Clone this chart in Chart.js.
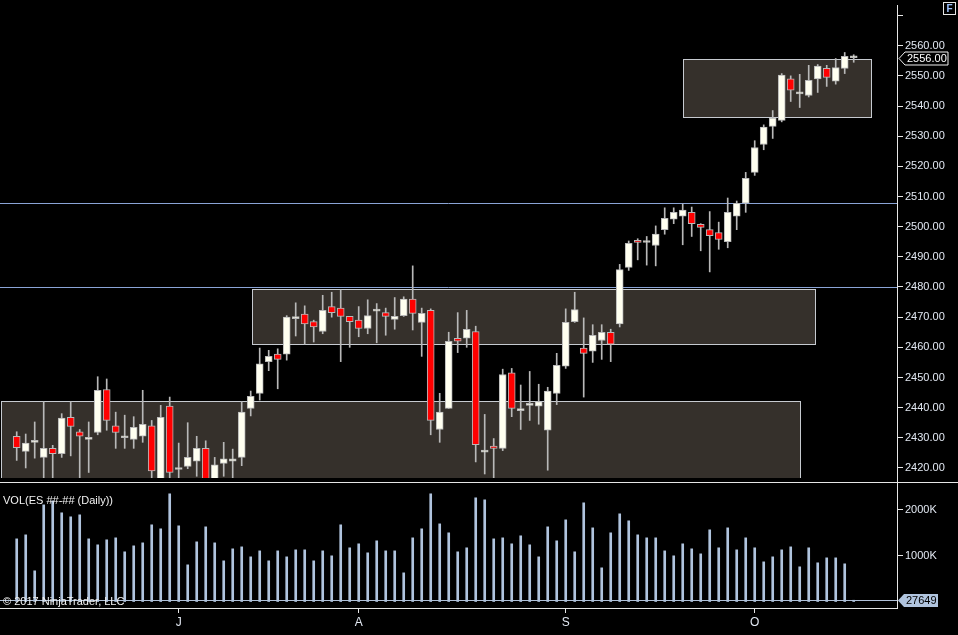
<!DOCTYPE html>
<html>
<head>
<meta charset="utf-8">
<script src="https://cdn.jsdelivr.net/npm/chart.js@4.4.0/dist/chart.umd.min.js"></script>
<style>
  html, body { margin: 0; padding: 0; background: #000; }
  #wrap { position: relative; width: 958px; height: 635px; overflow: hidden; background: #000;
          font-family: "Liberation Sans", Arial, sans-serif; color: #fff; }
  canvas { position: absolute; left: 0; }
  #price { top: 0; }
  #vol { top: 483px; }
  .sep { position: absolute; left: 0; top: 482px; width: 958px; height: 1px; background: #e6e6e6; }
  .axis { position: absolute; left: 897px; top: 5px; width: 1px; height: 604px; background: #e6e6e6; }
  .lbl { position: absolute; left: 3px; font-size: 11px; line-height: 13px; color: #f2f2f2; white-space: nowrap; }
  .fbox { position: absolute; left: 943px; top: 2px; width: 11px; height: 11px; border: 1px solid #e6e6e6;
          font-size: 10px; line-height: 11px; text-align: center; font-weight: bold; color: #9fc3ff; }
</style>
</head>
<body>
<div id="wrap">
  <canvas id="price" width="958" height="483"></canvas>
  <canvas id="vol" width="958" height="152"></canvas>
  <div class="sep"></div>
  <div class="axis"></div>
  <div class="lbl" style="top:494px">VOL(ES ##-## (Daily))</div>
  <div class="lbl" style="top:595px">&copy; 2017 NinjaTrader, LLC</div>
  <div class="fbox">F</div>
</div>
<script>
// daily ES bars, June - October 2017
var dates = [
  '2017-06-07','2017-06-08','2017-06-09','2017-06-12','2017-06-13','2017-06-14','2017-06-15','2017-06-16',
  '2017-06-19','2017-06-20','2017-06-21','2017-06-22','2017-06-23','2017-06-26','2017-06-27','2017-06-28',
  '2017-06-29','2017-06-30',
  '2017-07-03','2017-07-05','2017-07-06','2017-07-07','2017-07-10','2017-07-11','2017-07-12','2017-07-13',
  '2017-07-14','2017-07-17','2017-07-18','2017-07-19','2017-07-20','2017-07-21','2017-07-24','2017-07-25',
  '2017-07-26','2017-07-27','2017-07-28','2017-07-31',
  '2017-08-01','2017-08-02','2017-08-03','2017-08-04','2017-08-07','2017-08-08','2017-08-09','2017-08-10',
  '2017-08-11','2017-08-14','2017-08-15','2017-08-16','2017-08-17','2017-08-18','2017-08-21','2017-08-22',
  '2017-08-23','2017-08-24','2017-08-25','2017-08-28','2017-08-29','2017-08-30','2017-08-31',
  '2017-09-01','2017-09-04','2017-09-05','2017-09-06','2017-09-07','2017-09-08','2017-09-11','2017-09-12',
  '2017-09-13','2017-09-14','2017-09-15','2017-09-18','2017-09-19','2017-09-20','2017-09-21','2017-09-22',
  '2017-09-25','2017-09-26','2017-09-27','2017-09-28','2017-09-29',
  '2017-10-02','2017-10-03','2017-10-04','2017-10-05','2017-10-06','2017-10-09','2017-10-10','2017-10-11',
  '2017-10-12','2017-10-13','2017-10-16','2017-10-17'
];

var opens = [
  2430.5, 2425.5, 2428.5, 2423.5, 2426.5, 2424.75, 2436.75, 2432.0, 2429.5, 2431.75,
  2446.0, 2434.0, 2430.0, 2429.5, 2430.5, 2434.0, 2414.0, 2440.5, 2419.5, 2420.5,
  2422.25, 2426.5, 2416.0, 2421.5, 2422.25, 2423.5, 2439.75, 2444.75, 2455.25, 2457.75,
  2457.75, 2469.5, 2471.0, 2468.5, 2465.25, 2473.5, 2473.0, 2470.25, 2469.0, 2466.25,
  2472.0, 2471.5, 2469.25, 2470.5, 2476.0, 2468.25, 2472.25, 2432.75, 2439.75, 2463.0,
  2463.0, 2465.25, 2425.25, 2427.25, 2426.5, 2451.5, 2439.0, 2440.75, 2440.5, 2432.5,
  2444.75, 2453.75, 2468.5, 2459.75, 2458.75, 2462.25, 2465.0, 2467.75, 2486.5, 2495.5,
  2494.75, 2493.75, 2499.0, 2502.5, 2503.5, 2504.75, 2500.75, 2499.0, 2498.0, 2495.0,
  2503.5, 2507.75, 2518.0, 2527.25, 2533.25, 2535.25, 2549.0, 2544.0, 2543.5, 2549.0,
  2552.5, 2548.25, 2552.5, 2556.0
];
var highs = [
  2432.0, 2431.25, 2435.25, 2442.0, 2427.5, 2438.0, 2442.0, 2432.75, 2435.25, 2450.25,
  2449.5, 2438.5, 2437.5, 2437.0, 2445.75, 2435.75, 2440.75, 2443.5, 2428.25, 2435.0,
  2430.5, 2429.0, 2423.5, 2428.5, 2426.25, 2442.0, 2445.5, 2459.75, 2459.0, 2459.5,
  2470.5, 2474.75, 2473.75, 2469.0, 2477.25, 2478.25, 2479.0, 2470.25, 2473.5, 2475.75,
  2474.5, 2473.0, 2476.5, 2476.75, 2487.0, 2473.0, 2472.75, 2444.75, 2465.0, 2471.5,
  2472.25, 2467.0, 2437.75, 2429.75, 2452.75, 2453.0, 2447.5, 2452.0, 2447.75, 2446.75,
  2458.0, 2472.75, 2478.25, 2469.75, 2467.5, 2467.5, 2466.0, 2487.5, 2495.25, 2496.0,
  2496.75, 2500.25, 2506.25, 2506.25, 2507.5, 2506.5, 2501.0, 2505.0, 2501.5, 2509.5,
  2508.5, 2518.0, 2528.5, 2533.75, 2538.5, 2550.75, 2550.0, 2550.5, 2553.5, 2553.75,
  2553.5, 2555.75, 2557.75, 2557.0
];
var lows = [
  2422.5, 2420.0, 2423.25, 2415.0, 2415.0, 2423.5, 2424.0, 2416.0, 2418.5, 2431.0,
  2432.5, 2426.5, 2426.5, 2426.5, 2428.5, 2415.0, 2412.0, 2415.0, 2415.0, 2419.75,
  2417.25, 2414.0, 2415.0, 2417.25, 2416.0, 2420.75, 2437.25, 2442.5, 2452.25, 2446.25,
  2455.75, 2463.75, 2461.0, 2461.75, 2464.5, 2470.0, 2455.25, 2460.0, 2463.5, 2464.5,
  2461.5, 2464.0, 2466.0, 2470.25, 2465.75, 2457.0, 2431.0, 2428.5, 2439.75, 2458.25,
  2460.0, 2422.0, 2418.0, 2416.5, 2425.75, 2437.0, 2432.75, 2435.75, 2434.5, 2419.25,
  2441.0, 2453.0, 2468.25, 2443.5, 2455.0, 2456.0, 2455.25, 2466.75, 2485.5, 2489.0,
  2487.25, 2487.0, 2497.5, 2501.0, 2494.0, 2496.75, 2492.0, 2485.0, 2492.5, 2493.0,
  2499.0, 2504.75, 2517.0, 2525.5, 2529.25, 2534.75, 2541.5, 2539.5, 2543.0, 2544.5,
  2546.5, 2547.25, 2550.75, 2554.5
];
var closes = [
  2426.75, 2428.25, 2428.5, 2426.5, 2424.75, 2436.5, 2433.75, 2430.5, 2429.5, 2445.75,
  2435.75, 2431.75, 2430.0, 2433.5, 2434.5, 2419.0, 2436.75, 2418.5, 2419.5, 2423.5,
  2426.5, 2416.0, 2421.0, 2423.0, 2423.0, 2438.5, 2443.75, 2454.5, 2457.0, 2456.0,
  2470.0, 2469.5, 2467.75, 2466.75, 2472.25, 2471.5, 2470.25, 2468.5, 2466.25, 2470.5,
  2472.0, 2470.25, 2470.25, 2476.0, 2471.25, 2471.25, 2435.75, 2438.5, 2462.0, 2462.0,
  2466.0, 2427.75, 2425.25, 2426.5, 2451.0, 2439.75, 2439.0, 2440.75, 2442.0, 2445.5,
  2454.0, 2468.25, 2472.5, 2458.0, 2464.0, 2465.0, 2461.0, 2485.75, 2494.5, 2494.75,
  2494.75, 2497.5, 2502.75, 2504.75, 2505.5, 2501.0, 2499.75, 2497.0, 2495.75, 2504.75,
  2507.75, 2516.0, 2526.25, 2533.0, 2536.0, 2550.25, 2545.25, 2544.0, 2548.5, 2553.25,
  2549.5, 2552.75, 2556.5, 2556.0
];
var volumes = [
  1362000, 1449000, 667000, 2101000, 2188000, 1928000, 1841000, 1884000, 1362000, 1232000,
  1341000, 1384000, 1080000, 1210000, 1275000, 1667000, 1580000, 2341000, 1645000, 797000,
  1297000, 1623000, 1275000, 884000, 1145000, 1188000, 971000, 1101000, 884000, 1101000,
  971000, 1123000, 1123000, 884000, 1101000, 993000, 1667000, 1167000, 1254000, 1058000,
  1319000, 1101000, 1101000, 623000, 1384000, 1580000, 2341000, 1688000, 1493000, 1080000,
  1167000, 2254000, 2210000, 1362000, 1384000, 1254000, 1428000, 1232000, 971000, 1623000,
  1319000, 1775000, 1080000, 2145000, 1601000, 732000, 1493000, 1906000, 1754000, 1449000,
  1384000, 1384000, 1101000, 993000, 1254000, 1145000, 1036000, 1558000, 1167000, 1601000,
  1123000, 1384000, 1167000, 862000, 971000, 1123000, 1188000, 754000, 1167000, 841000,
  949000, 949000, 819000, 27649
];
var volumeTicks = [1000000, 2000000];

// shaded zones (bar index from/to, price low/high) and two horizontal levels
var zoneStart = [-1.75, 26.1, 74.0];
var zoneEnd   = [87.0, 88.7, 94.9];
var zoneLow   = [2410.0, 2461.0, 2536.3];
var zoneHigh  = [2442.2, 2479.4, 2555.5];
var levels = [2507.8, 2480.0];

var monthLetters = ['J','F','M','A','M','J','J','A','S','O','N','D'];
var monthTicks = [];
dates.forEach(function (d, i) {
  if (i > 0 && d.slice(5, 7) !== dates[i - 1].slice(5, 7)) monthTicks.push(i);
});

Chart.defaults.font.family = '"Liberation Sans", Arial, sans-serif';
Chart.defaults.font.size = 11;
Chart.defaults.color = '#e2e8f2';
Chart.defaults.animation = false;

var X_MIN = -1.856, X_MAX = 97.81;
var WICK = '#b8b8b8';

var wickData = dates.map(function (d, i) { return { x: i, y: [lows[i], highs[i]] }; });
var bodyData = dates.map(function (d, i) {
  return { x: i, y: [Math.min(opens[i], closes[i]), Math.max(opens[i], closes[i])] };
});
var bodyColors = dates.map(function (d, i) { return closes[i] < opens[i] ? '#ff0000' : '#fffff0'; });

function fixAxis(width) {
  return function (scale) {
    scale.width = width;
    scale.paddingTop = 0; scale.paddingBottom = 0;
  };
}

function marker(ctx, x, y, w, text, fill, stroke, color) {
  ctx.save();
  ctx.beginPath();
  ctx.moveTo(x, y);
  ctx.lineTo(x + 6, y - 6.5);
  ctx.lineTo(x + w, y - 6.5);
  ctx.lineTo(x + w, y + 6.5);
  ctx.lineTo(x + 6, y + 6.5);
  ctx.closePath();
  ctx.fillStyle = fill;
  ctx.fill();
  if (stroke) { ctx.strokeStyle = stroke; ctx.lineWidth = 1; ctx.stroke(); }
  ctx.fillStyle = color;
  ctx.font = '11px "Liberation Sans", Arial, sans-serif';
  ctx.textBaseline = 'middle';
  ctx.fillText(text, x + 8, y + 0.5);
  ctx.restore();
}

var zonesPlugin = {
  id: 'zones',
  beforeDatasetsDraw: function (chart) {
    var ctx = chart.ctx, a = chart.chartArea, x = chart.scales.x, y = chart.scales.y;
    ctx.save();
    ctx.beginPath();
    ctx.rect(a.left, a.top, a.right - a.left, a.bottom - a.top);
    ctx.clip();
    zoneStart.forEach(function (s, k) {
      var x0 = Math.round(x.getPixelForValue(s)) + 0.5;
      var x1 = Math.round(x.getPixelForValue(zoneEnd[k])) + 0.5;
      var y0 = Math.round(y.getPixelForValue(zoneHigh[k])) + 0.5;
      var y1 = Math.round(y.getPixelForValue(zoneLow[k])) + 0.5;
      ctx.fillStyle = '#35302b';
      ctx.fillRect(x0, y0, x1 - x0, y1 - y0);
      ctx.strokeStyle = '#c6cad0';
      ctx.lineWidth = 1;
      ctx.strokeRect(x0, y0, x1 - x0, y1 - y0);
    });
    levels.forEach(function (v) {
      var py = Math.round(y.getPixelForValue(v)) + 0.5;
      ctx.strokeStyle = '#8aa4d6';
      ctx.lineWidth = 1;
      ctx.beginPath();
      ctx.moveTo(a.left, py);
      ctx.lineTo(a.right, py);
      ctx.stroke();
    });
    ctx.restore();
  },
  afterDraw: function (chart) {
    var last = closes[closes.length - 1];
    var py = Math.round(chart.scales.y.getPixelForValue(last)) + 0.5;
    marker(chart.ctx, chart.chartArea.right + 2, py, 49, last.toFixed(2), '#000', '#f0f0f0', '#ffffff');
  }
};

new Chart(document.getElementById('price'), {
  type: 'bar',
  data: {
    datasets: [
      { label: 'body', data: bodyData, order: 0, grouped: false, barThickness: 7, minBarLength: 2,
        backgroundColor: bodyColors, borderColor: WICK, borderWidth: 1, borderSkipped: false },
      { label: 'wick', data: wickData, order: 1, grouped: false, barThickness: 1,
        backgroundColor: WICK, borderWidth: 0 }
    ]
  },
  options: {
    responsive: false,
    layout: { autoPadding: false, padding: { top: 0, bottom: 5, left: 0, right: 0 } },
    plugins: { legend: { display: false }, tooltip: { enabled: false } },
    scales: {
      x: { type: 'linear', min: X_MIN, max: X_MAX, offset: false, display: false },
      y: {
        position: 'right', min: 2416.67, max: 2575.15, beginAtZero: false,
        afterFit: fixAxis(61),
        border: { display: false },
        grid: { drawOnChartArea: false, drawTicks: true, tickLength: 6, color: '#e6e6e6' },
        ticks: {
          stepSize: 10, includeBounds: false, autoSkip: false, padding: 2,
          callback: function (v) { return v > 2565 ? '' : v.toFixed(2); }
        }
      }
    }
  },
  plugins: [zonesPlugin]
});

var volPlugin = {
  id: 'volmark',
  beforeDatasetsDraw: function (chart) {
    var ctx = chart.ctx, a = chart.chartArea;
    var py = Math.round(chart.scales.y.getPixelForValue(volumes[volumes.length - 1])) + 0.5;
    ctx.save();
    ctx.strokeStyle = '#b0c0d8';
    ctx.lineWidth = 1;
    ctx.beginPath();
    ctx.moveTo(a.left, py);
    ctx.lineTo(a.right, py);
    ctx.stroke();
    ctx.restore();
  },
  afterDraw: function (chart) {
    var v = volumes[volumes.length - 1];
    var py = Math.round(chart.scales.y.getPixelForValue(v)) + 0.5;
    marker(chart.ctx, chart.chartArea.right + 1, py, 40, String(v), '#b0c4de', null, '#000');
  }
};

new Chart(document.getElementById('vol'), {
  type: 'bar',
  data: {
    datasets: [{
      label: 'VOL', data: dates.map(function (d, i) { return { x: i, y: volumes[i] }; }),
      barThickness: 2, backgroundColor: '#b0c4de', borderWidth: 0
    }]
  },
  options: {
    responsive: false,
    layout: { autoPadding: false, padding: 0 },
    plugins: { legend: { display: false }, tooltip: { enabled: false } },
    scales: {
      x: {
        type: 'linear', min: X_MIN, max: X_MAX, offset: false,
        afterFit: function (scale) { scale.height = 27; scale.paddingLeft = 0; scale.paddingRight = 0; },
        afterBuildTicks: function (scale) {
          scale.ticks = monthTicks.map(function (i) { return { value: i }; });
        },
        border: { display: true, color: '#e6e6e6', width: 1 },
        grid: { offset: false, drawOnChartArea: false, drawTicks: true, tickLength: 5, color: '#e6e6e6' },
        ticks: {
          autoSkip: false, maxRotation: 0, padding: 2, font: { size: 12 },
          callback: function (v) { return monthLetters[parseInt(dates[v].slice(5, 7), 10) - 1]; }
        }
      },
      y: {
        position: 'right', min: -141000, max: 2576000, beginAtZero: false,
        afterFit: fixAxis(61),
        afterBuildTicks: function (scale) {
          scale.ticks = volumeTicks.map(function (v) { return { value: v }; });
        },
        border: { display: false },
        grid: { drawOnChartArea: false, drawTicks: true, tickLength: 6, color: '#e6e6e6' },
        ticks: {
          autoSkip: false, padding: 2,
          callback: function (v) { return (v / 1000) + 'K'; }
        }
      }
    }
  },
  plugins: [volPlugin]
});
</script>
</body>
</html>
